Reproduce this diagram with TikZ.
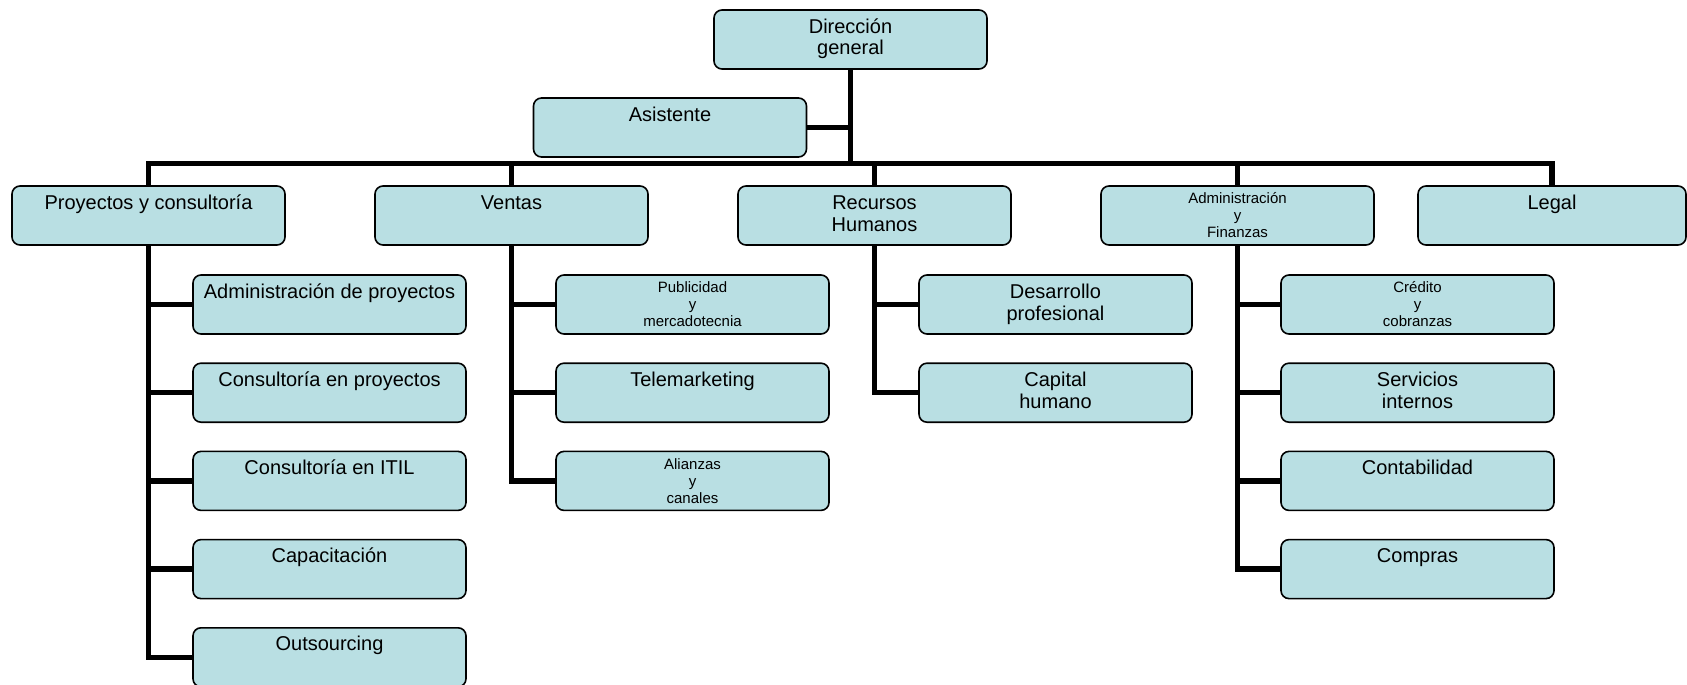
\documentclass[tikz,border=0pt]{standalone}
\usepackage{fontspec}
\setmainfont{Liberation Sans}
\definecolor{boxfill}{RGB}{185,223,227}
% box contents: fixed-size box, text set from the top
\newcommand{\bigtext}[2][273pt]{\parbox[c][59pt][t]{#1}{\centering\fontsize{20}{22}\selectfont\rule{0pt}{23pt}#2}}
\newcommand{\smalltext}[2][273pt]{\parbox[c][59pt][t]{#1}{\centering\fontsize{15}{17}\selectfont\rule{0pt}{17.7pt}#2}}
\tikzset{
  unit/.style={draw=black, line width=1.6pt, fill=boxfill, rounded corners=8pt, inner sep=0pt, outer sep=0pt},
  conn/.style={draw=black, line width=5.5pt, line join=miter}
}
\begin{document}
\begin{tikzpicture}[x=1pt,y=-1pt]
\useasboundingbox (0,0) rectangle (1687,685);

% top level
\node[unit] (dg) at (850.5,39.5) {\bigtext{Dirección\\general}};
\node[unit] (as) at (670,127.5) {\bigtext{Asistente}};

% departments
\node[unit] (pj) at (148.5,215.5) {\bigtext{Proyectos y consultoría}};
\node[unit] (vt) at (511.5,215.5) {\bigtext{Ventas}};
\node[unit] (rh) at (874.5,215.5) {\bigtext{Recursos\\Humanos}};
\node[unit] (af) at (1237.5,215.5) {\smalltext{Administración\\y\\Finanzas}};
\node[unit] (lg) at (1552,215.5) {\bigtext[268pt]{Legal}};

% Proyectos y consultoría
\node[unit] (pj1) at (329.5,304.5) {\bigtext{Administración de proyectos}};
\node[unit] (pj2) at (329.5,392.7) {\bigtext{Consultoría en proyectos}};
\node[unit] (pj3) at (329.5,480.9) {\bigtext{Consultoría en ITIL}};
\node[unit] (pj4) at (329.5,569.1) {\bigtext{Capacitación}};
\node[unit] (pj5) at (329.5,657.3) {\bigtext{Outsourcing}};

% Ventas
\node[unit] (vt1) at (692.5,304.5) {\smalltext{Publicidad\\y\\mercadotecnia}};
\node[unit] (vt2) at (692.5,392.7) {\bigtext{Telemarketing}};
\node[unit] (vt3) at (692.5,480.9) {\smalltext{Alianzas\\y\\canales}};

% Recursos Humanos
\node[unit] (rh1) at (1055.5,304.5) {\bigtext{Desarrollo\\profesional}};
\node[unit] (rh2) at (1055.5,392.7) {\bigtext{Capital\\humano}};

% Administración y Finanzas
\node[unit] (af1) at (1417.5,304.5) {\smalltext{Crédito\\y\\cobranzas}};
\node[unit] (af2) at (1417.5,392.7) {\bigtext{Servicios\\internos}};
\node[unit] (af3) at (1417.5,480.9) {\bigtext{Contabilidad}};
\node[unit] (af4) at (1417.5,569.1) {\bigtext{Compras}};

% main bus
\coordinate (bus) at (0,163.5);
\draw[conn] (dg.south) -- (dg.south |- bus);
\draw[conn] (as.east) -- (as.east -| dg.south);
\draw[conn] (pj.north) -- (pj.north |- bus) -- (lg.north |- bus) -- (lg.north);
\draw[conn] (vt.north) -- (vt.north |- bus);
\draw[conn] (rh.north) -- (rh.north |- bus);
\draw[conn] (af.north) -- (af.north |- bus);

% department branches
\foreach \c in {pj1,pj2,pj3,pj4,pj5} \draw[conn] (pj.south) |- (\c.west);
\foreach \c in {vt1,vt2,vt3} \draw[conn] (vt.south) |- (\c.west);
\foreach \c in {rh1,rh2} \draw[conn] (rh.south) |- (\c.west);
\foreach \c in {af1,af2,af3,af4} \draw[conn] (af.south) |- (\c.west);
\end{tikzpicture}
\end{document}
